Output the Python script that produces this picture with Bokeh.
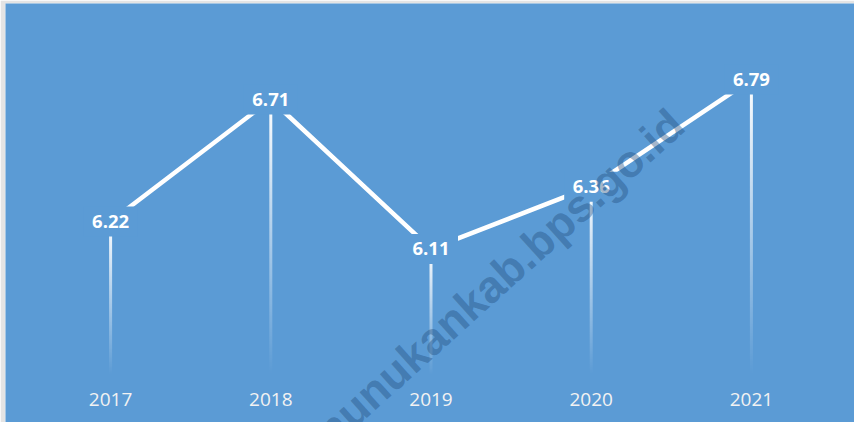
import numpy as np
from bokeh.plotting import figure
from bokeh.models import ColumnDataSource, Label, Range1d
from bokeh.core.properties import value
from bokeh.embed import file_html
from bokeh.resources import INLINE

years = ["2017", "2018", "2019", "2020", "2021"]
values = [6.22, 6.71, 6.11, 6.36, 6.79]
y_min = 5.6
watermark = "nunukankab.bps.go.id"

BG = "#5B9BD5"
W, H = 854, 422
EDGE_L, EDGE_T = 5, 3    # thin light edge on the left and top
PX_PER_UNIT = 249.0      # vertical scale (pixels per value unit)
BASE_PX = 375.4          # pixel row of the baseline
LEFT_PX, RIGHT_PX = 30, 831

xs = list(range(len(years)))
src = ColumnDataSource(dict(x=xs, y=values, lbl=[f"{v:.2f}" for v in values]))
cat_w = (RIGHT_PX - LEFT_PX) / len(years)

p = figure(width=W, height=H, output_backend="svg", toolbar_location=None,
           x_range=Range1d(-0.5 - (LEFT_PX - EDGE_L) / cat_w,
                           len(years) - 0.5 + (W - RIGHT_PX) / cat_w),
           y_range=Range1d(y_min - (H - BASE_PX) / PX_PER_UNIT,
                           y_min + (BASE_PX - EDGE_T) / PX_PER_UNIT),
           min_border_left=EDGE_L, min_border_top=EDGE_T,
           min_border_right=0, min_border_bottom=0)
p.background_fill_color = BG
p.border_fill_color = "#E4E4E4"
p.outline_line_color = None
p.grid.visible = False
p.axis.visible = False

# gradient drop lines (white fading to transparent toward the baseline)
n = 120
ramp = (np.linspace(0, 255, n).astype(np.uint32) << 24) | 0x00FFFFFF
imgs = [ramp.reshape(n, 1).astype(np.uint32) for _ in values]
p.image_rgba(image=imgs, x=xs, y=[y_min] * len(values), dw=[3] * len(values),
             dh=[v - y_min for v in values], dw_units="screen", anchor="bottom_center")

p.line("x", "y", source=src, line_color="white", line_width=4.5)

# label boxes in the background colour hide the line behind the labels
p.rect("x", "y", source=src, width=54, height=30, width_units="screen",
       height_units="screen", fill_color=BG, line_color=None)
p.text("x", "y", text="lbl", source=src, text_align="center", text_baseline="middle",
       text_color="white", text_font=value("Open Sans"), text_font_style="bold",
       text_font_size="18.5px")

# category labels under the baseline
p.text(x=xs, y=[y_min] * len(years), text=years, y_offset=24, text_align="center",
       text_baseline="middle", text_color="#F2F2F2", text_font=value("Open Sans"),
       text_font_size="19px")

wm = Label(x=2.428, y=5.995, text=watermark, angle=42, angle_units="deg",
           text_align="center", text_baseline="alphabetic",
           text_font="Liberation Sans", text_font_style="bold", text_font_size="45px",
           text_color="#24507F", text_alpha=0.42)
p.add_layout(wm)

open("out.html", "w").write(file_html(p, INLINE))
